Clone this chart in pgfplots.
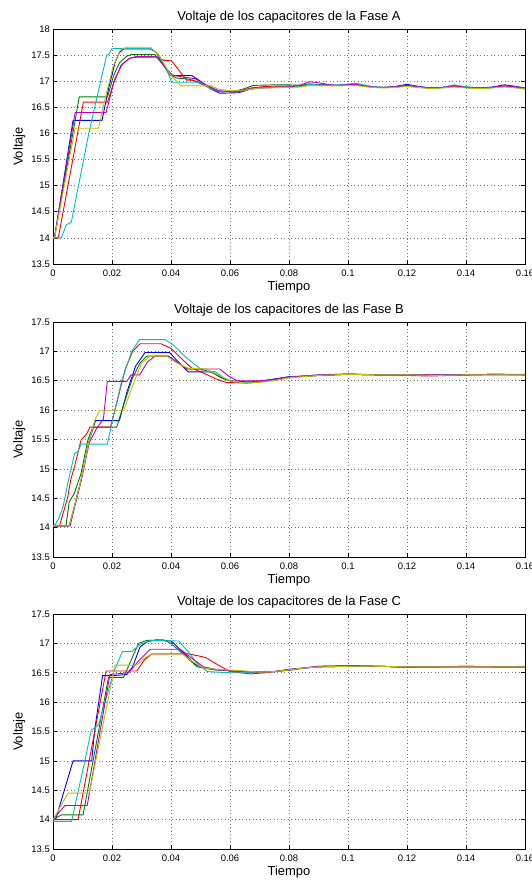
\documentclass[border=0pt]{standalone}
\usepackage{pgfplots}
\pgfplotsset{compat=1.18}
\usepackage{fontspec}
\setmainfont{Liberation Sans}
\definecolor{mb}{rgb}{0,0,1}
\definecolor{mg}{rgb}{0,0.5,0}
\definecolor{mr}{rgb}{1,0,0}
\definecolor{mc}{rgb}{0,0.75,0.75}
\definecolor{mm}{rgb}{0.75,0,0.75}
\definecolor{my}{rgb}{0.75,0.75,0}
\pgfplotsset{
  matstyle/.style={
    scale only axis, width=472bp, height=235bp, anchor=south west,
    xmin=0, xmax=0.16,
    xtick={0,0.02,0.04,0.06,0.08,0.1,0.12,0.14,0.16},
    xticklabels={0,0.02,0.04,0.06,0.08,0.1,0.12,0.14,0.16},
    grid=major, major grid style={dash pattern=on 0.9bp off 2.6bp, line width=0.6bp, black!55},
    tick align=inside, major tick length=4bp,
    xtick pos=both, ytick pos=both,
    axis line style={line width=0.9bp, black},
    every tick/.style={black, line width=0.6bp},
    tick label style={font=\fontsize{9.5}{10}\selectfont},
    /pgf/number format/assume math mode=true,
    xticklabel style={anchor=base, inner sep=0pt, yshift=-12.6bp},
    yticklabel style={anchor=east, inner sep=0pt, xshift=-3bp},
    every axis title/.style={at={(axis description cs:0.5,1.0353)}, anchor=base, font=\fontsize{13}{14}\selectfont},
    every axis x label/.style={at={(axis description cs:0.5,-0.1128)}, anchor=base, font=\fontsize{13}{14}\selectfont},
    every axis y label/.style={at={(axis description cs:-0.0714,0.5)}, anchor=center, rotate=90, font=\fontsize{13}{14}\selectfont},
    xlabel={Tiempo}, ylabel={Voltaje},
    every axis plot/.append style={line width=0.9bp, mark=none},
    clip=true,
  }
}
\begin{document}
\begin{tikzpicture}[x=1bp,y=1bp]
\path[use as bounding box] (0,0) rectangle (532,880);
% ---------------- Phase A ----------------
\begin{axis}[matstyle, at={(53bp,616bp)}, ymin=13.5, ymax=18,
  ytick={13.5,14,14.5,15,15.5,16,16.5,17,17.5,18},
  yticklabels={13.5,14,14.5,15,15.5,16,16.5,17,17.5,18},
  title={Voltaje de los capacitores de la Fase A}]
\addplot[color=mb] coordinates {(0,14)(0.0005,14)(0.0068,16.25)(0.0166,16.25)(0.019,16.9)(0.021,17.35)(0.0225,17.55)(0.024,17.62)(0.033,17.62)(0.035,17.55)(0.0375,17.3)(0.0405,17.11)(0.047,17.11)(0.05,17.0)(0.0535,16.85)(0.0566,16.77)(0.063,16.78)(0.067,16.85)(0.07,16.87)(0.075,16.88)(0.08,16.89)(0.084,16.9)(0.087,16.94)(0.092,16.93)(0.097,16.92)(0.1025,16.94)(0.108,16.89)(0.112,16.88)(0.116,16.9)(0.12,16.94)(0.124,16.9)(0.128,16.87)(0.132,16.88)(0.136,16.9)(0.14,16.88)(0.145,16.87)(0.149,16.89)(0.153,16.93)(0.157,16.9)(0.16,16.87)};
\addplot[color=mg] coordinates {(0,14)(0.0005,14)(0.0089,16.70)(0.0185,16.70)(0.0205,17.1)(0.0225,17.35)(0.025,17.48)(0.0265,17.51)(0.0345,17.51)(0.037,17.35)(0.0395,17.12)(0.042,17.06)(0.046,17.04)(0.05,16.97)(0.054,16.86)(0.057,16.80)(0.062,16.81)(0.065,16.86)(0.068,16.92)(0.075,16.93)(0.08,16.93)(0.084,16.92)(0.087,16.95)(0.092,16.92)(0.097,16.92)(0.1025,16.94)(0.108,16.89)(0.112,16.88)(0.116,16.89)(0.12,16.91)(0.124,16.89)(0.128,16.87)(0.132,16.88)(0.136,16.92)(0.14,16.89)(0.145,16.87)(0.149,16.88)(0.153,16.9)(0.157,16.88)(0.16,16.86)};
\addplot[color=mr] coordinates {(0,14)(0.0018,14)(0.0103,16.6)(0.0185,16.6)(0.021,17.05)(0.0235,17.33)(0.026,17.44)(0.0285,17.46)(0.0355,17.46)(0.0375,17.40)(0.0402,17.39)(0.0453,17.02)(0.0475,17.02)(0.052,16.9)(0.056,16.81)(0.062,16.8)(0.067,16.87)(0.072,16.9)(0.08,16.91)(0.084,16.9)(0.087,16.93)(0.092,16.92)(0.097,16.92)(0.1025,16.93)(0.108,16.89)(0.112,16.88)(0.116,16.89)(0.12,16.91)(0.124,16.88)(0.128,16.87)(0.132,16.88)(0.136,16.9)(0.14,16.88)(0.145,16.87)(0.149,16.88)(0.153,16.9)(0.157,16.88)(0.16,16.86)};
\addplot[color=mc] coordinates {(0,14)(0.0028,14)(0.0035,14.1)(0.0045,14.25)(0.0062,14.3)(0.0116,15.85)(0.0127,16.15)(0.0182,17.5)(0.019,17.52)(0.0199,17.62)(0.0215,17.63)(0.033,17.63)(0.035,17.55)(0.038,17.3)(0.0402,16.98)(0.0498,16.98)(0.0535,16.85)(0.057,16.8)(0.063,16.8)(0.067,16.85)(0.07,16.87)(0.08,16.89)(0.084,16.9)(0.087,16.94)(0.092,16.92)(0.097,16.93)(0.1025,16.96)(0.108,16.9)(0.112,16.88)(0.116,16.89)(0.12,16.92)(0.124,16.89)(0.128,16.86)(0.132,16.88)(0.136,16.93)(0.14,16.89)(0.145,16.86)(0.149,16.88)(0.153,16.91)(0.157,16.89)(0.16,16.86)};
\addplot[color=mm] coordinates {(0,14)(0.0005,14)(0.0075,16.4)(0.018,16.4)(0.0205,16.95)(0.023,17.3)(0.026,17.44)(0.028,17.47)(0.035,17.47)(0.0375,17.3)(0.04,17.12)(0.044,17.08)(0.048,17.05)(0.052,16.93)(0.056,16.82)(0.061,16.79)(0.066,16.84)(0.07,16.88)(0.08,16.89)(0.084,16.93)(0.087,16.99)(0.09,16.97)(0.095,16.92)(0.1,16.93)(0.1025,16.94)(0.108,16.89)(0.112,16.88)(0.116,16.89)(0.12,16.92)(0.124,16.89)(0.128,16.87)(0.132,16.88)(0.136,16.91)(0.14,16.88)(0.145,16.87)(0.149,16.88)(0.153,16.91)(0.157,16.89)(0.16,16.86)};
\addplot[color=my] coordinates {(0,14)(0.0005,14)(0.0075,16.1)(0.0154,16.1)(0.018,16.75)(0.0205,17.3)(0.0228,17.6)(0.025,17.65)(0.033,17.65)(0.036,17.5)(0.0395,17.15)(0.0433,16.91)(0.0538,16.91)(0.056,16.85)(0.06,16.82)(0.065,16.83)(0.07,16.87)(0.08,16.88)(0.084,16.89)(0.087,16.92)(0.092,16.91)(0.097,16.91)(0.1025,16.92)(0.108,16.88)(0.112,16.87)(0.116,16.88)(0.12,16.9)(0.124,16.88)(0.128,16.86)(0.132,16.87)(0.136,16.89)(0.14,16.87)(0.145,16.86)(0.149,16.87)(0.153,16.89)(0.157,16.87)(0.16,16.85)};
\end{axis}
% ---------------- Phase B ----------------
\begin{axis}[matstyle, at={(53bp,323bp)}, ymin=13.5, ymax=17.5,
  ytick={13.5,14,14.5,15,15.5,16,16.5,17,17.5},
  yticklabels={13.5,14,14.5,15,15.5,16,16.5,17,17.5},
  title={Voltaje de los capacitores de las Fase B}]
\addplot[color=mb] coordinates {(0,14.03)(0.0055,14.03)(0.0072,14.35)(0.0095,14.81)(0.0123,15.49)(0.0144,15.82)(0.0225,15.82)(0.025,16.3)(0.028,16.75)(0.0312,16.98)(0.0395,16.98)(0.0425,16.82)(0.0458,16.65)(0.0537,16.65)(0.057,16.55)(0.0599,16.5)(0.066,16.48)(0.07,16.49)(0.075,16.53)(0.08,16.57)(0.09,16.59)(0.1,16.61)(0.11,16.6)(0.12,16.6)(0.13,16.59)(0.14,16.6)(0.15,16.61)(0.16,16.6)};
\addplot[color=mg] coordinates {(0,14.03)(0.0044,14.03)(0.0055,14.44)(0.0072,14.58)(0.0095,14.92)(0.0118,15.49)(0.0135,15.71)(0.0216,15.71)(0.024,16.1)(0.027,16.55)(0.0295,16.8)(0.0318,16.92)(0.039,16.92)(0.0425,16.8)(0.0455,16.7)(0.05,16.7)(0.054,16.64)(0.058,16.53)(0.062,16.48)(0.068,16.47)(0.072,16.49)(0.075,16.52)(0.08,16.56)(0.09,16.59)(0.1,16.61)(0.11,16.6)(0.12,16.6)(0.13,16.6)(0.14,16.6)(0.15,16.61)(0.16,16.6)};
\addplot[color=mr] coordinates {(0,14.03)(0.0022,14.03)(0.005,14.52)(0.006,14.81)(0.0073,15.04)(0.0095,15.49)(0.0115,15.6)(0.0125,15.71)(0.0195,15.71)(0.0215,16.1)(0.0245,16.7)(0.027,17.0)(0.0295,17.13)(0.0366,17.13)(0.04,17.05)(0.0435,16.88)(0.0469,16.72)(0.051,16.63)(0.0553,16.53)(0.0588,16.47)(0.066,16.46)(0.07,16.48)(0.075,16.52)(0.08,16.56)(0.09,16.59)(0.1,16.61)(0.11,16.6)(0.12,16.59)(0.128,16.58)(0.14,16.6)(0.15,16.6)(0.16,16.6)};
\addplot[color=mc] coordinates {(0,14.03)(0.0007,14.05)(0.0017,14.13)(0.0028,14.27)(0.0034,14.35)(0.005,14.75)(0.0073,15.26)(0.0085,15.3)(0.0095,15.42)(0.0184,15.42)(0.0205,15.9)(0.0233,16.5)(0.0267,17.0)(0.0293,17.2)(0.038,17.2)(0.041,17.1)(0.045,16.9)(0.0493,16.73)(0.0508,16.66)(0.0548,16.66)(0.058,16.55)(0.0608,16.49)(0.065,16.47)(0.07,16.48)(0.075,16.52)(0.08,16.56)(0.09,16.6)(0.1,16.62)(0.11,16.6)(0.12,16.6)(0.13,16.6)(0.14,16.6)(0.15,16.61)(0.16,16.6)};
\addplot[color=mm] coordinates {(0,14.03)(0.0058,14.03)(0.0072,14.32)(0.0095,14.78)(0.0123,15.45)(0.0148,15.69)(0.0171,15.85)(0.0184,16.49)(0.025,16.49)(0.0265,16.6)(0.0294,16.6)(0.032,16.82)(0.0346,16.92)(0.039,16.92)(0.042,16.82)(0.0452,16.7)(0.0565,16.7)(0.0595,16.58)(0.0624,16.5)(0.07,16.5)(0.075,16.52)(0.08,16.56)(0.09,16.6)(0.1,16.61)(0.11,16.6)(0.12,16.6)(0.13,16.6)(0.14,16.6)(0.15,16.61)(0.16,16.61)};
\addplot[color=my] coordinates {(0,14.03)(0.0055,14.03)(0.0072,14.35)(0.0095,14.81)(0.0123,15.49)(0.0143,15.85)(0.0158,15.99)(0.0239,15.99)(0.0265,16.35)(0.03,16.8)(0.033,16.92)(0.0385,16.92)(0.042,16.8)(0.046,16.71)(0.052,16.7)(0.056,16.6)(0.06,16.5)(0.065,16.46)(0.07,16.47)(0.075,16.5)(0.08,16.55)(0.09,16.59)(0.1,16.61)(0.11,16.6)(0.12,16.6)(0.13,16.59)(0.14,16.6)(0.15,16.6)(0.16,16.6)};
\end{axis}
% ---------------- Phase C ----------------
\begin{axis}[matstyle, at={(53bp,31bp)}, ymin=13.5, ymax=17.5,
  ytick={13.5,14,14.5,15,15.5,16,16.5,17,17.5},
  yticklabels={13.5,14,14.5,15,15.5,16,16.5,17,17.5},
  title={Voltaje de los capacitores de la Fase C}]
\addplot[color=mb] coordinates {(0,14.0)(0.001,14.02)(0.0068,15.0)(0.0131,15.0)(0.0142,15.55)(0.0168,16.45)(0.02,16.45)(0.025,16.47)(0.027,16.6)(0.0295,16.94)(0.032,17.03)(0.0352,17.06)(0.04,17.04)(0.041,17.0)(0.044,16.85)(0.048,16.65)(0.051,16.58)(0.055,16.55)(0.065,16.52)(0.07,16.51)(0.075,16.52)(0.08,16.56)(0.085,16.58)(0.09,16.6)(0.1,16.61)(0.11,16.61)(0.12,16.6)(0.13,16.6)(0.14,16.61)(0.15,16.6)(0.16,16.6)};
\addplot[color=mg] coordinates {(0,14.0)(0.0028,14.08)(0.0102,14.08)(0.0188,16.42)(0.0239,16.42)(0.029,17.0)(0.0318,17.05)(0.0375,17.06)(0.04,17.0)(0.044,16.82)(0.0489,16.6)(0.055,16.55)(0.065,16.52)(0.07,16.51)(0.075,16.52)(0.08,16.55)(0.085,16.58)(0.09,16.6)(0.1,16.61)(0.11,16.61)(0.12,16.6)(0.13,16.6)(0.14,16.6)(0.15,16.6)(0.16,16.6)};
\addplot[color=mr] coordinates {(0,14.0)(0.0085,14.0)(0.018,16.53)(0.0284,16.53)(0.031,16.72)(0.0335,16.82)(0.046,16.82)(0.049,16.79)(0.0517,16.76)(0.055,16.66)(0.06,16.52)(0.067,16.48)(0.072,16.5)(0.075,16.52)(0.08,16.54)(0.085,16.58)(0.09,16.61)(0.1,16.62)(0.11,16.61)(0.12,16.59)(0.13,16.6)(0.14,16.6)(0.15,16.6)(0.16,16.6)};
\addplot[color=mc] coordinates {(0,13.97)(0.0063,13.97)(0.0108,15.0)(0.013,15.53)(0.0142,15.56)(0.0155,15.62)(0.0205,16.5)(0.0235,16.86)(0.0267,16.86)(0.0295,16.98)(0.033,17.05)(0.0426,17.04)(0.046,16.85)(0.049,16.65)(0.0523,16.52)(0.06,16.5)(0.065,16.5)(0.07,16.51)(0.075,16.52)(0.08,16.55)(0.085,16.58)(0.09,16.6)(0.1,16.61)(0.11,16.61)(0.12,16.6)(0.13,16.6)(0.14,16.6)(0.15,16.6)(0.16,16.61)};
\addplot[color=mm] coordinates {(0,14.0)(0.004,14.24)(0.0116,14.24)(0.0193,16.47)(0.0256,16.5)(0.029,16.7)(0.033,16.9)(0.0432,16.9)(0.047,16.75)(0.051,16.6)(0.056,16.55)(0.065,16.52)(0.07,16.51)(0.075,16.52)(0.08,16.55)(0.085,16.58)(0.09,16.61)(0.1,16.62)(0.11,16.61)(0.12,16.6)(0.13,16.6)(0.14,16.61)(0.15,16.6)(0.16,16.6)};
\addplot[color=my] coordinates {(0,14.0)(0.0051,14.45)(0.0123,14.45)(0.021,16.63)(0.0284,16.63)(0.031,16.75)(0.0335,16.82)(0.0438,16.82)(0.047,16.7)(0.051,16.58)(0.055,16.56)(0.065,16.53)(0.07,16.51)(0.075,16.52)(0.08,16.55)(0.085,16.58)(0.09,16.6)(0.1,16.61)(0.11,16.61)(0.12,16.6)(0.13,16.6)(0.14,16.6)(0.15,16.6)(0.16,16.6)};
\end{axis}
\end{tikzpicture}
\end{document}
